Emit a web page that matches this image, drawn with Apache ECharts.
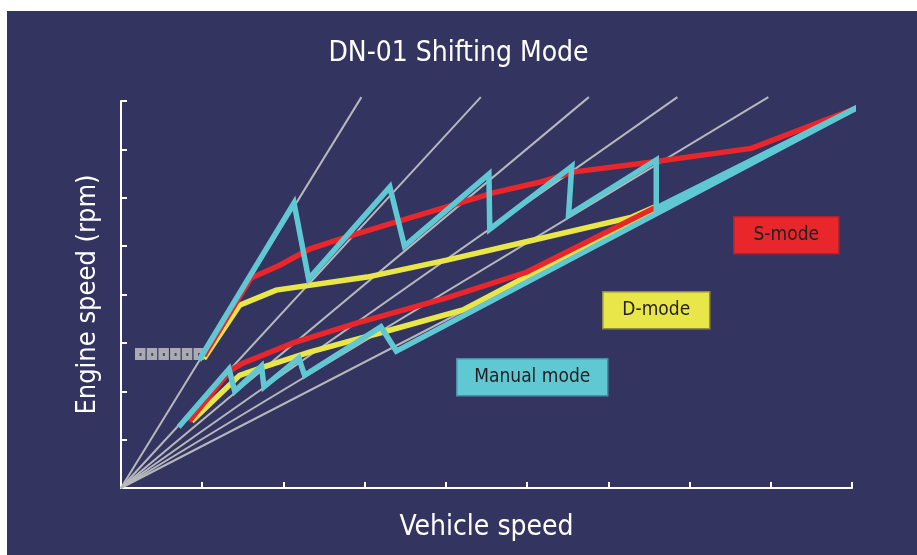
<!DOCTYPE html>
<html>
<head>
<meta charset="utf-8">
<title>DN-01 Shifting Mode</title>
<script src="https://cdn.jsdelivr.net/npm/echarts@6/dist/echarts.min.js"></script>
<style>
  html, body { margin: 0; padding: 0; background: #ffffff; }
  #panel { position: absolute; left: 7px; top: 11px; width: 910px; height: 544px; background: #33345f; }
  #main { position: absolute; left: 0; top: 0; width: 917px; height: 555px; }
</style>
</head>
<body>
<div id="panel"></div>
<div id="main"></div>
<script>
// gear lines from the origin (end points, axis units)
const gearEnds = [[2.96, 8.08], [4.43, 8.08], [5.76, 8.08], [6.85, 8.08], [7.97, 8.08], [9.07, 7.87]];

// S-mode (red)
const sModeHigh = [[1.02, 2.73], [1.60, 4.34], [1.96, 4.61], [2.32, 4.94], [2.78, 5.19], [3.39, 5.50],
  [4.01, 5.81], [4.58, 6.10], [5.15, 6.32], [5.56, 6.53], [6.54, 6.74], [7.76, 7.02], [9.05, 7.85]];
const sModeLow = [[0.84, 1.38], [1.34, 2.42], [1.50, 2.58], [2.12, 3.00], [2.90, 3.41], [4.01, 3.93],
  [4.99, 4.46], [6.57, 5.79]];

// D-mode (yellow)
const dModeHigh = [[1.02, 2.67], [1.46, 3.78], [1.91, 4.09], [3.03, 4.36], [4.01, 4.71], [4.91, 5.06],
  [6.29, 5.60], [6.57, 5.81]];
const dModeLow = [[0.87, 1.38], [1.46, 2.33], [1.75, 2.50], [2.32, 2.81], [3.22, 3.22], [4.21, 3.68],
  [6.57, 5.76]];

// Manual mode (cyan)
const manualHigh = [[0.96, 2.64], [2.13, 5.89], [2.31, 4.32], [3.31, 6.22], [3.49, 5.00], [4.53, 6.49],
  [4.54, 5.35], [5.55, 6.65], [5.51, 5.64], [6.59, 6.78], [6.59, 5.79], [9.07, 7.87]];
const manualLow = [[0.71, 1.26], [1.33, 2.46], [1.40, 2.00], [1.73, 2.52], [1.76, 2.09], [2.19, 2.69],
  [2.26, 2.33], [3.20, 3.33], [3.39, 2.83], [9.07, 7.87]];

const modeNames = ['S-mode', 'D-mode', 'Manual mode'];

const FONT = "'Liberation Sans Narrow', 'DejaVu Sans Condensed', 'Roboto', sans-serif";
const RED = '#e8262b';
const YELLOW = '#e9e64a';
const CYAN = '#60c8d3';

const myChart = echarts.init(document.getElementById('main'), null, { renderer: 'canvas' });

function modeLine(name, data, color, z) {
  return {
    name: name,
    type: 'line',
    data: data,
    symbol: 'none',
    clip: false,
    silent: true,
    z: z,
    lineStyle: { color: color, width: 5.5, join: 'miter', miterLimit: 10 }
  };
}

const series = gearEnds.map((end, i) => ({
  name: 'gear' + (i + 1),
  type: 'line',
  data: [[0, 0], end],
  symbol: 'none',
  clip: false,
  silent: true,
  z: 1,
  lineStyle: { color: '#b7b8bc', width: 2 }
}));
series.push(modeLine(modeNames[1], dModeHigh, YELLOW, 3));
series.push(modeLine(modeNames[1], dModeLow, YELLOW, 3));
series.push(modeLine(modeNames[0], sModeHigh, RED, 4));
series.push(modeLine(modeNames[0], sModeLow, RED, 4));
series.push(modeLine(modeNames[2], manualLow, CYAN, 5));
series.push(modeLine(modeNames[2], manualHigh, CYAN, 5));

// label boxes
function labelBox(text, x, y, w, h, fill, border) {
  return {
    type: 'group',
    left: x,
    top: y,
    z: 10,
    children: [
      { type: 'rect', shape: { x: 0, y: 0, width: w, height: h }, style: { fill: fill, stroke: border, lineWidth: 1.5 } },
      { type: 'text', x: w / 2, y: h / 2, style: { text: text, fill: '#231f20', font: '500 19px ' + FONT, align: 'center', verticalAlign: 'middle' } }
    ]
  };
}

// small dotted strip next to the y axis
const dots = [];
for (let i = 0; i < 6; i++) {
  dots.push({ type: 'rect', shape: { x: i * 11.7, y: 0, width: 10.5, height: 12 }, style: { fill: '#a9aab2' } });
  dots.push({ type: 'rect', shape: { x: i * 11.7 + 4.5, y: 5, width: 2, height: 3 }, style: { fill: '#4a4a60' } });
}

const option = {
  backgroundColor: 'transparent',
  animation: false,
  title: {
    text: 'DN-01 Shifting Mode',
    left: 'center',
    top: 35,
    textStyle: { color: '#ffffff', fontFamily: FONT, fontSize: 28, fontWeight: 'normal' }
  },
  grid: { left: 121, right: 65, top: 101, bottom: 67 },
  xAxis: {
    type: 'value',
    min: 0,
    max: 9,
    interval: 1,
    name: 'Vehicle speed',
    nameLocation: 'middle',
    nameGap: 26,
    nameTextStyle: { color: '#ffffff', fontFamily: FONT, fontSize: 28, verticalAlign: 'top' },
    axisLine: { show: true, lineStyle: { color: '#ffffff', width: 2 } },
    axisTick: { show: true, inside: true, length: 6, lineStyle: { color: '#ffffff', width: 2 } },
    axisLabel: { show: false },
    splitLine: { show: false }
  },
  yAxis: {
    type: 'value',
    min: 0,
    max: 8,
    interval: 1,
    name: 'Engine speed (rpm)',
    nameLocation: 'middle',
    nameGap: 20,
    nameTextStyle: { color: '#ffffff', fontFamily: FONT, fontSize: 27 },
    axisLine: { show: true, lineStyle: { color: '#ffffff', width: 2 } },
    axisTick: { show: true, inside: true, length: 6, lineStyle: { color: '#ffffff', width: 2 } },
    axisLabel: { show: false },
    splitLine: { show: false }
  },
  graphic: [
    { type: 'group', left: 135, top: 348, z: 0, children: dots },
    labelBox(modeNames[0], 733, 216, 105, 37, RED, '#b81f2c'),
    labelBox(modeNames[1], 602, 291, 107, 37, YELLOW, '#8f8c45'),
    labelBox(modeNames[2], 456, 358, 151, 37, CYAN, '#4a8fa6')
  ],
  series: series
};

myChart.setOption(option);
</script>
</body>
</html>
